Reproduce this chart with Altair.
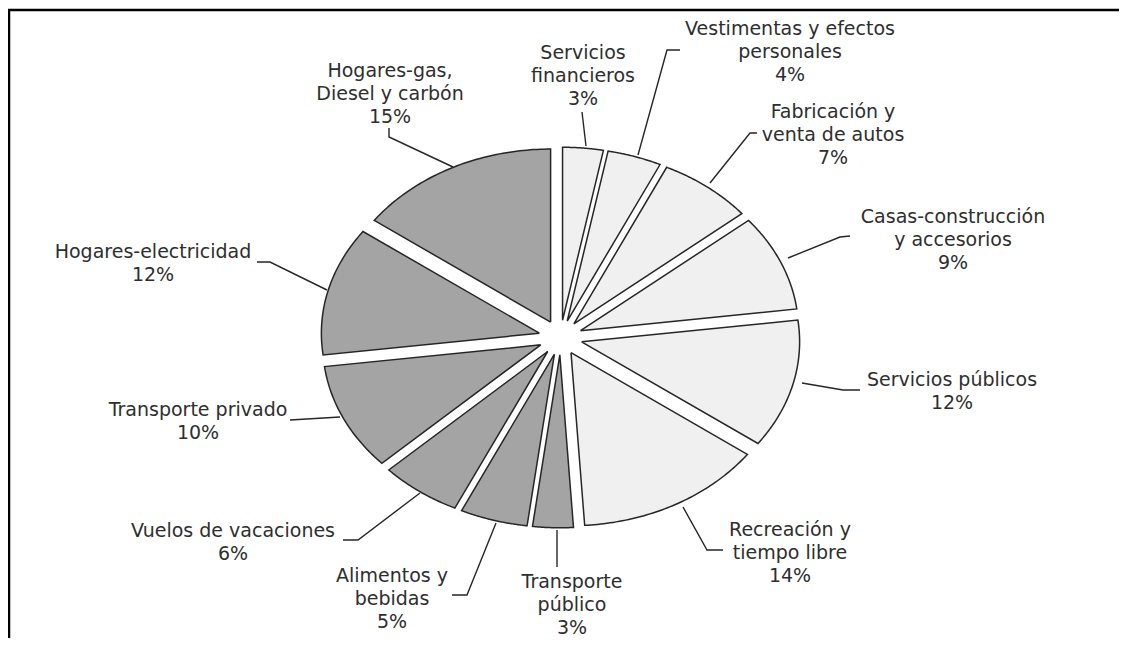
import numpy as np
import pandas as pd
import altair as alt

# ---------------- data ----------------
categories = [
    "Servicios financieros",
    "Vestimentas y efectos personales",
    "Fabricación y venta de autos",
    "Casas-construcción y accesorios",
    "Servicios públicos",
    "Recreación y tiempo libre",
    "Transporte público",
    "Alimentos y bebidas",
    "Vuelos de vacaciones",
    "Transporte privado",
    "Hogares-electricidad",
    "Hogares-gas, Diesel y carbón",
]
values = [3, 4, 7, 9, 12, 14, 3, 5, 6, 10, 12, 15]
groups = ["claro"] * 6 + ["oscuro"] * 6
label_text = [
    ["Servicios", "financieros"],
    ["Vestimentas y efectos", "personales"],
    ["Fabricación y", "venta de autos"],
    ["Casas-construcción", "y accesorios"],
    ["Servicios públicos"],
    ["Recreación y", "tiempo libre"],
    ["Transporte", "público"],
    ["Alimentos y", "bebidas"],
    ["Vuelos de vacaciones"],
    ["Transporte privado"],
    ["Hogares-electricidad"],
    ["Hogares-gas,", "Diesel y carbón"],
]

# ---------------- layout (page pixels) ----------------
W, H = 1111, 630
CX, CY, RX, RY, EXPLODE = 560.5, 337.5, 218.0, 173.0, 0.10
N = 60
LINE_H = 23
label_pos = [
    (583, 53), (790, 29), (833, 112), (953, 217), (952, 380), (790, 530),
    (572, 582), (392, 576), (233, 531), (198, 410), (153, 252), (390, 71),
]
leaders = [
    [(582, 112), (586, 146)],
    [(680, 50), (667, 50), (638, 155)],
    [(757, 133), (750, 133), (710, 183)],
    [(850, 236), (840, 237), (788, 258)],
    [(860, 390), (843, 390), (802, 383)],
    [(723, 550), (707, 550), (683, 507)],
    [(557, 567), (557, 530)],
    [(452, 595), (467, 595), (496, 523)],
    [(343, 540), (358, 540), (420, 493)],
    [(290, 420), (340, 417)],
    [(257, 262), (270, 262), (327, 290)],
    [(389, 128), (389, 137), (453, 167)],
]

# ---------------- tables ----------------
cum = np.cumsum(values)
rows = []
for cat, v, g, end in zip(categories, values, groups, cum):
    for k in range(-1, N + 2):
        rows.append({"cat": cat, "value": v, "start": float(end - v), "grupo": g, "k": k})
slices = pd.DataFrame(rows)

lab_rows = []
for cat, v, lines, (lx, ly) in zip(categories, values, label_text, label_pos):
    for i, t in enumerate(lines + [f"{v}%"]):
        lab_rows.append({"cat": cat, "text": t, "x": lx, "y": ly + i * LINE_H})
labels = pd.DataFrame(lab_rows)

lead_rows = []
for cat, pts in zip(categories, leaders):
    for i, (px, py) in enumerate(pts):
        lead_rows.append({"cat": cat, "i": i, "x": px, "y": py})
leads = pd.DataFrame(lead_rows)

xs = alt.Scale(domain=[8, 8 + W], nice=False, zero=False)
ys = alt.Scale(domain=[8, 8 + H], nice=False, zero=False, reverse=True)

geom = (
    alt.Chart(slices)
    .transform_calculate(
        frac=f"clamp(datum.k, 0, {N}) / {N}",
        a="2 * PI * (datum.start + datum.value * datum.frac) / 100",
        mid="2 * PI * (datum.start + datum.value / 2) / 100",
        ox=f"{CX} + {EXPLODE} * {RX} * sin(datum.mid)",
        oy=f"{CY} - {EXPLODE} * {RY} * cos(datum.mid)",
        px=f"(datum.k < 0 || datum.k > {N}) ? datum.ox : datum.ox + {RX} * sin(datum.a)",
        py=f"(datum.k < 0 || datum.k > {N}) ? datum.oy : datum.oy - {RY} * cos(datum.a)",
    )
    .encode(
        x=alt.X("px:Q", scale=xs, axis=None),
        y=alt.Y("py:Q", scale=ys, axis=None),
        detail="cat:N",
        order=alt.Order("k:Q"),
    )
)
light = geom.transform_filter(alt.datum.grupo == "claro").mark_line(
    fill="#f0f0f0", stroke="#262626", strokeWidth=1.5, strokeJoin="miter"
)
dark = geom.transform_filter(alt.datum.grupo == "oscuro").mark_line(
    fill="#a4a4a4", stroke="#262626", strokeWidth=1.5, strokeJoin="miter"
)

lead = alt.Chart(leads).mark_line(stroke="#262626", strokeWidth=1.4).encode(
    x=alt.X("x:Q", scale=xs, axis=None),
    y=alt.Y("y:Q", scale=ys, axis=None),
    detail="cat:N",
    order=alt.Order("i:Q"),
)

text = alt.Chart(labels).mark_text(
    font="DejaVu Sans", fontSize=19, color="#2e2e2e", align="center", baseline="middle"
).encode(
    x=alt.X("x:Q", scale=xs, axis=None),
    y=alt.Y("y:Q", scale=ys, axis=None),
    text="text:N",
)

one = pd.DataFrame({"a": [0]})
top_rule = alt.Chart(one).mark_rule(color="black", strokeWidth=2.5).encode(
    x=alt.value(0), x2=alt.value(W), y=alt.value(2)
)
left_rule = alt.Chart(one).mark_rule(color="black", strokeWidth=2.5).encode(
    x=alt.value(1), y=alt.value(2), y2=alt.value(H)
)

chart = (
    alt.layer(light, dark, lead, text, top_rule, left_rule)
    .properties(width=W, height=H, padding=0, autosize=alt.AutoSizeParams(type="none"))
    .configure_view(stroke=None)
)

chart.save("out.html", embed_options={"renderer": "svg", "actions": False})
